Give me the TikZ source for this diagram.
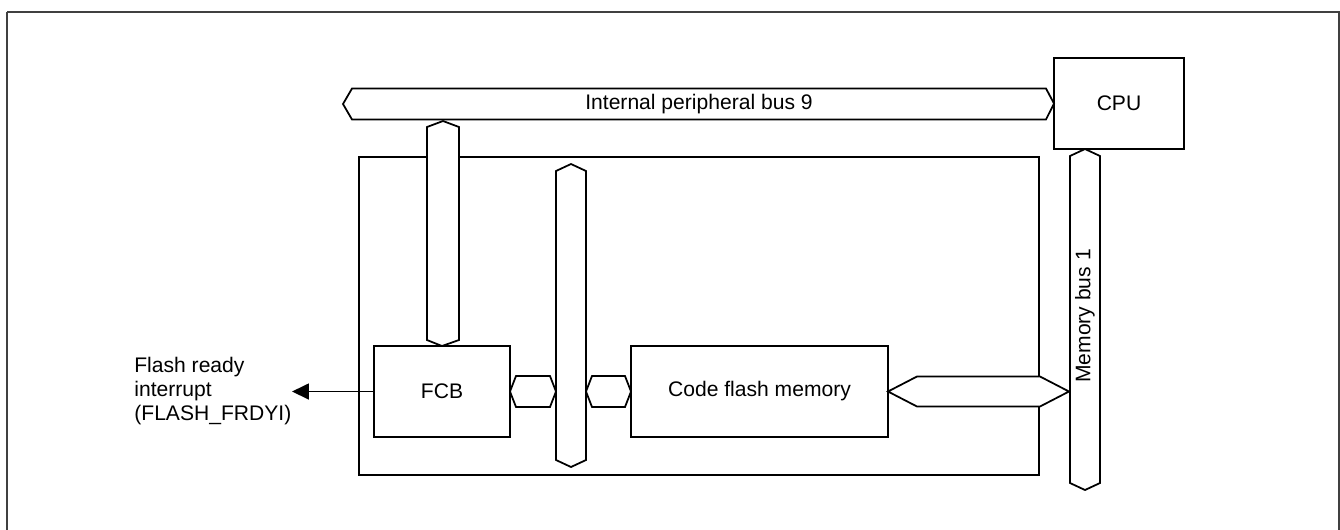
\documentclass[tikz,border=0pt]{standalone}
\usepackage{fontspec}
\setmainfont{Liberation Sans}
\usetikzlibrary{arrows.meta}

\begin{document}
\begin{tikzpicture}[
  x=0.02cm, y=-0.02cm,
  font=\fontsize{12}{13.5}\selectfont,
  box/.style={draw, line width=1pt, fill=white, inner sep=0pt, outer sep=0pt, align=center},
  bus/.style={draw, line width=1pt, fill=white, line join=miter},
  arr/.style={-{Triangle[length=0.34cm, width=0.32cm]}, line width=1pt}
]
\useasboundingbox (0,0) rectangle (1340,529);
\draw[line width=1.4pt, black!75] (7,12) -- (1339,12) -- (1339,560) (7,12) -- (7,560);

% inner block
\node[box, minimum width=13.6cm, minimum height=6.36cm] (frame) at (699,316) {};

% boxes
\node[box, minimum width=2.6cm, minimum height=1.82cm] (cpu) at (1119,103.5) {CPU};
\node[box, minimum width=2.72cm, minimum height=1.82cm] (fcb) at (442,391.5) {FCB};
\node[box, minimum width=5.14cm, minimum height=1.82cm] (cfm) at (759.5,391.5) {Code flash memory};

% buses
\draw[bus] (343,104) -- (352,88.5) -- (1046,88.5) -- (cpu.west) -- (1046,119.5) -- (352,119.5) -- cycle;
\node (pbus) at (699,104) {Internal peripheral bus 9};
\draw[bus] (443,121) -- (459,127) -- (459,340) -- (fcb.north) -- (427,340) -- (427,127) -- cycle;
\draw[bus] (571,164) -- (586,171) -- (586,460) -- (571,467) -- (556,460) -- (556,171) -- cycle;
\draw[bus] (fcb.east) -- (516,376) -- (550,376) -- (556,391.5) -- (550,407) -- (516,407) -- cycle;
\draw[bus] (586,391.5) -- (592,376) -- (625,376) -- (cfm.west) -- (625,407) -- (592,407) -- cycle;
\draw[bus] (1085,149) -- (1100,156) -- (1100,483) -- (1085,490) -- (1070,483) -- (1070,156) -- cycle;
\node[rotate=90] (mbus) at (1085,316) {Memory bus 1};
\draw[bus] (cfm.east) -- (917,376.5) -- (1040,376.5) -- (1069,391.5) -- (1040,406.5) -- (917,406.5) -- cycle;

% interrupt
\coordinate (irq) at (292,391.5);
\draw[arr] (fcb.west) -- (irq);
\node[anchor=west, align=left, inner sep=0pt] (irqtext) at (134,391) {Flash ready\\interrupt\\(FLASH\_FRDYI)};
\end{tikzpicture}
\end{document}
